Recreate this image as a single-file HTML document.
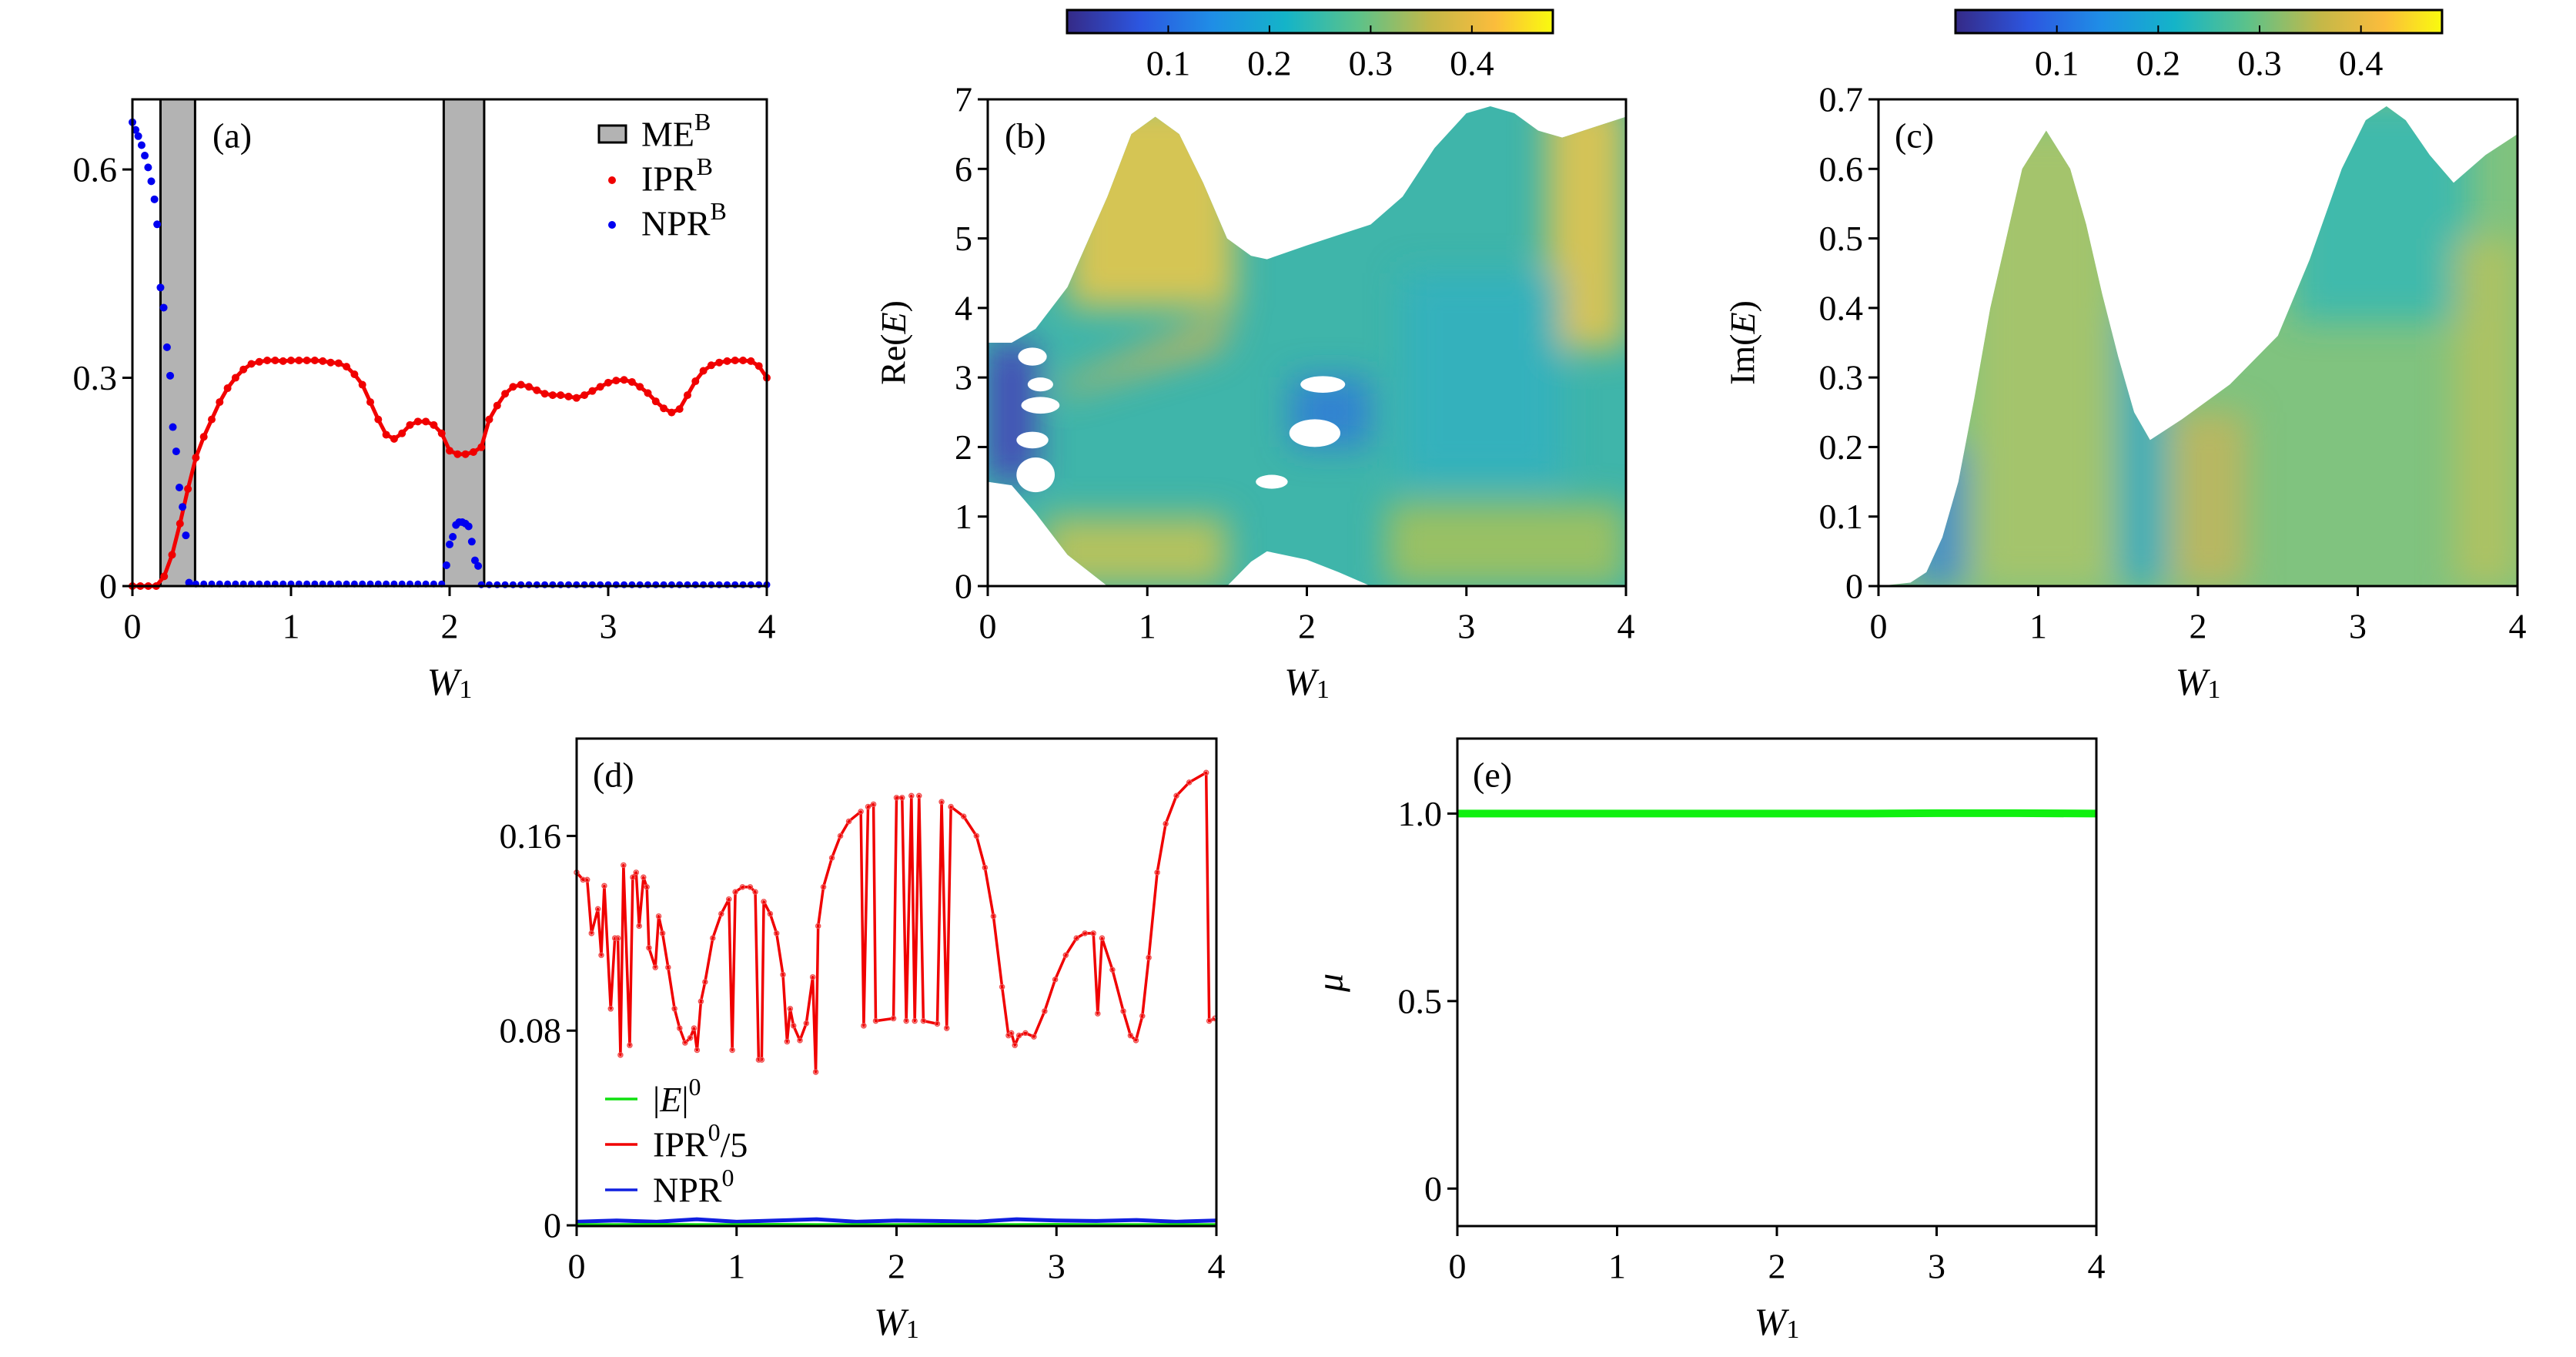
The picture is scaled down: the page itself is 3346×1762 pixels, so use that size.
<!DOCTYPE html>
<html><head><meta charset="utf-8"><style>
html,body{margin:0;padding:0;background:#fff;}
svg{display:block;}
text{font-family:"Liberation Serif",serif;fill:#000;}
</style></head><body>
<svg id="fig" width="3346" height="1762" viewBox="0 0 3346 1762" xmlns="http://www.w3.org/2000/svg">
<defs>
<linearGradient id="parula" x1="0" x2="1" y1="0" y2="0">
<stop offset="0" stop-color="#352a87"/><stop offset="0.15" stop-color="#2c56e0"/><stop offset="0.3" stop-color="#1f8ee6"/>
<stop offset="0.45" stop-color="#14b4c8"/><stop offset="0.6" stop-color="#5cc28a"/><stop offset="0.75" stop-color="#c4b848"/>
<stop offset="0.88" stop-color="#fbbc3c"/><stop offset="1" stop-color="#f9fb0e"/>
</linearGradient>
<filter id="soft" x="-10%" y="-10%" width="120%" height="120%"><feGaussianBlur stdDeviation="22"/></filter>
</defs>
</svg>
<script>
// ---------- data panel (a) ----------
const ipaX=[0,0.05,0.1,0.15,0.2,0.25,0.3,0.35,0.4,0.45,0.5,0.55,0.6,0.65,0.7,0.75,0.8,0.85,0.9,0.95,1.0,1.05,1.1,1.15,1.2,1.25,1.3,1.35,1.4,1.45,1.5,1.55,1.6,1.65,1.7,1.75,1.8,1.85,1.9,1.95,2.0,2.05,2.1,2.15,2.2,2.25,2.3,2.35,2.4,2.45,2.5,2.55,2.6,2.65,2.7,2.75,2.8,2.85,2.9,2.95,3.0,3.05,3.1,3.15,3.2,3.25,3.3,3.35,3.4,3.45,3.5,3.55,3.6,3.65,3.7,3.75,3.8,3.85,3.9,3.95,4.0];
const ipaY=[0,0,0,0,0.014,0.045,0.09,0.14,0.185,0.215,0.24,0.265,0.285,0.3,0.312,0.32,0.323,0.325,0.325,0.324,0.325,0.325,0.325,0.325,0.324,0.322,0.321,0.316,0.305,0.29,0.265,0.24,0.218,0.212,0.22,0.232,0.237,0.237,0.232,0.22,0.195,0.19,0.19,0.193,0.2,0.24,0.26,0.277,0.287,0.29,0.287,0.282,0.277,0.275,0.275,0.273,0.271,0.275,0.281,0.287,0.293,0.296,0.297,0.294,0.287,0.278,0.266,0.256,0.25,0.255,0.275,0.295,0.31,0.318,0.322,0.324,0.325,0.325,0.324,0.317,0.30];
const npaX=[0,0.02,0.037,0.058,0.078,0.099,0.119,0.139,0.156,0.177,0.197,0.218,0.238,0.255,0.276,0.296,0.316,0.337,0.357,1.98,2.0,2.02,2.04,2.06,2.08,2.10,2.12,2.14,2.16,2.18];
const npaY=[0.668,0.657,0.648,0.635,0.62,0.603,0.583,0.557,0.521,0.43,0.401,0.344,0.303,0.229,0.194,0.142,0.114,0.073,0.005,0.03,0.06,0.071,0.088,0.092,0.092,0.09,0.086,0.064,0.037,0.029];
const npaFlatX=[0.40,0.45,0.5,0.55,0.6,0.65,0.7,0.75,0.8,0.85,0.9,0.95,1.0,1.05,1.1,1.15,1.2,1.25,1.3,1.35,1.4,1.45,1.5,1.55,1.6,1.65,1.7,1.75,1.8,1.85,1.9,1.95,2.2,2.25,2.3,2.35,2.4,2.45,2.5,2.55,2.6,2.65,2.7,2.75,2.8,2.85,2.9,2.95,3.0,3.05,3.1,3.15,3.2,3.25,3.3,3.35,3.4,3.45,3.5,3.55,3.6,3.65,3.7,3.75,3.8,3.85,3.9,3.95,4.0];
const npaFlatY=[0.003,0.003,0.003,0.003,0.003,0.003,0.003,0.003,0.003,0.003,0.003,0.003,0.003,0.003,0.003,0.003,0.003,0.003,0.003,0.003,0.003,0.003,0.003,0.003,0.003,0.003,0.003,0.003,0.003,0.003,0.003,0.003,0.002,0.002,0.002,0.002,0.002,0.002,0.002,0.002,0.002,0.002,0.002,0.002,0.002,0.002,0.002,0.002,0.002,0.002,0.002,0.002,0.002,0.002,0.002,0.002,0.002,0.002,0.002,0.002,0.002,0.002,0.002,0.002,0.002,0.002,0.002,0.002,0.002];
const meBands=[[0.177,0.395],[1.963,2.218]];
const aYTicks=[0,0.3,0.6];
const aYLabels=["0","0.3","0.6"];
const xTicks=[0,1,2,3,4];
const xLabels=["0","1","2","3","4"];
// ---------- data panel (b) ----------
const bEnvX=[0,0.15,0.3,0.5,0.75,0.9,1.05,1.2,1.35,1.5,1.65,1.75,2.0,2.2,2.4,2.6,2.8,3.0,3.15,3.3,3.45,3.6,3.8,4.0];
const bTop=[3.5,3.5,3.7,4.3,5.6,6.5,6.75,6.5,5.8,5.0,4.75,4.7,4.9,5.05,5.2,5.6,6.3,6.8,6.9,6.8,6.55,6.45,6.6,6.75];
const bBot=[1.5,1.45,1.05,0.45,0,0,0,0,0,0,0.35,0.5,0.38,0.2,0,0,0,0,0,0,0,0,0,0];
const bYTicks=[0,1,2,3,4,5,6,7];
const bRegionX=[[0.5,1.55,1.55,0.5],[3.5,4.0,4.0,3.5],[0.0,0.3,0.3,0.0],[0.35,1.5,1.5,0.35],[2.5,4.0,4.0,2.5],[1.9,2.4,2.4,1.9],[0.45,1.55,1.45,0.45],[2.6,3.6,3.6,2.6]];
const bRegionY=[[4.0,4.0,7,7],[3.4,3.4,7,7],[1.5,1.5,3.5,3.5],[0,0,1.0,1.0],[0,0,1.2,1.2],[2.0,2.0,3.0,3.0],[2.9,3.95,3.4,2.75],[1.5,1.5,4.5,4.5]];
const bRegionC=["#f0c845","#efc648","#4436b8","#c8c452","#a9c257","#2f7ad8","#d9b54c","#33b0c0"];
const bHoleX=[0.28,0.33,0.33,0.28,0.3,2.1,2.05,1.78];
const bHoleY=[3.3,2.9,2.6,2.1,1.6,2.9,2.2,1.5];
const bHoleRx=[0.09,0.08,0.12,0.1,0.12,0.14,0.16,0.1];
const bHoleRy=[0.13,0.1,0.12,0.12,0.25,0.12,0.2,0.1];
// ---------- data panel (c) ----------
const cEnvX=[0,0.2,0.3,0.4,0.5,0.6,0.7,0.8,0.9,1.05,1.2,1.3,1.4,1.5,1.6,1.7,1.9,2.2,2.5,2.7,2.9,3.05,3.18,3.3,3.45,3.6,3.8,4.0];
const cTop=[0,0.005,0.02,0.07,0.15,0.27,0.4,0.5,0.6,0.655,0.6,0.52,0.42,0.33,0.25,0.21,0.24,0.29,0.36,0.47,0.6,0.67,0.69,0.67,0.62,0.58,0.62,0.65];
const cYTicks=[0,0.1,0.2,0.3,0.4,0.5,0.6,0.7];
const cYLabels=["0","0.1","0.2","0.3","0.4","0.5","0.6","0.7"];
const cRegionX=[[0.6,1.45,1.45,0.6],[1.5,1.8,1.8,1.5],[2.6,3.7,3.7,2.6],[1.85,2.3,2.3,1.85],[3.6,4.0,4.0,3.6],[0.2,0.55,0.55,0.2]];
const cRegionY=[[0,0,0.66,0.66],[0,0,0.4,0.4],[0.38,0.38,0.7,0.7],[0,0,0.25,0.25],[0,0,0.5,0.5],[0,0,0.2,0.2]];
const cRegionC=["#acc468","#2fa7c8","#2fb8b6","#c6b45a","#b8c25c","#3f86d6"];
// ---------- data panel (d) ----------
const dX=[0,0.04,0.066,0.093,0.133,0.154,0.173,0.213,0.239,0.258,0.274,0.293,0.332,0.351,0.372,0.391,0.418,0.439,0.452,0.492,0.513,0.537,0.572,0.612,0.644,0.678,0.71,0.734,0.753,0.777,0.803,0.851,0.904,0.952,0.973,0.992,1.037,1.085,1.117,1.138,1.157,1.17,1.21,1.25,1.29,1.316,1.335,1.356,1.396,1.436,1.476,1.495,1.51,1.543,1.596,1.649,1.702,1.777,1.795,1.822,1.856,1.870,1.981,2.0,2.035,2.061,2.093,2.114,2.141,2.168,2.255,2.282,2.314,2.34,2.42,2.50,2.553,2.606,2.66,2.70,2.718,2.74,2.766,2.806,2.859,2.926,2.992,3.058,3.125,3.178,3.231,3.258,3.285,3.35,3.418,3.463,3.497,3.537,3.577,3.63,3.683,3.75,3.83,3.936,3.955,3.99];
const dIPR=[0.145,0.142,0.142,0.12,0.13,0.111,0.1395,0.089,0.118,0.118,0.070,0.148,0.074,0.143,0.145,0.123,0.143,0.139,0.114,0.106,0.127,0.120,0.106,0.089,0.081,0.075,0.077,0.081,0.072,0.092,0.100,0.118,0.128,0.134,0.072,0.137,0.139,0.139,0.137,0.068,0.068,0.133,0.128,0.120,0.103,0.0755,0.089,0.082,0.076,0.083,0.102,0.063,0.123,0.139,0.151,0.160,0.166,0.170,0.082,0.172,0.173,0.084,0.085,0.1757,0.1757,0.084,0.1765,0.084,0.1765,0.084,0.0828,0.174,0.081,0.172,0.168,0.160,0.147,0.127,0.098,0.078,0.079,0.074,0.078,0.079,0.0775,0.088,0.101,0.111,0.118,0.120,0.120,0.087,0.118,0.105,0.088,0.078,0.076,0.086,0.110,0.145,0.165,0.1765,0.182,0.186,0.084,0.085];
const dSmallX=[0,0.25,0.5,0.75,1.0,1.25,1.5,1.75,2.0,2.25,2.5,2.75,3.0,3.25,3.5,3.75,4.0];
const dNPR=[0.0015,0.002,0.0015,0.0025,0.0015,0.002,0.0025,0.0015,0.002,0.0018,0.0015,0.0025,0.002,0.0018,0.0022,0.0015,0.002];
const dE=[0.0004,0.0004,0.0005,0.0004,0.0004,0.0005,0.0004,0.0004,0.0004,0.0005,0.0004,0.0004,0.0005,0.0004,0.0004,0.0004,0.0004];
const dYTicks=[0,0.08,0.16];
const dYLabels=["0","0.08","0.16"];
// ---------- data panel (e) ----------
const eX=[0,0.5,1.0,1.5,2.0,2.5,3.0,3.5,4.0];
const eMu=[1.0,1.0,1.0,1.0,1.0,1.0,1.001,1.001,1.0];
const eYTicks=[0,0.5,1.0];
const eYLabels=["0","0.5","1.0"];
// ---------- colorbar ----------
const cbTicks=[0.1,0.2,0.3,0.4];
const cbLabels=["0.1","0.2","0.3","0.4"];

const NS="http://www.w3.org/2000/svg";
const svg=document.getElementById('fig');
function mk(tag,attrs,parent){const e=document.createElementNS(NS,tag);for(const k in attrs)e.setAttribute(k,attrs[k]);(parent||svg).appendChild(e);return e;}
function axes(x0,x1,y0,y1,xmin,xmax,ymin,ymax){return {x0,x1,y0,y1,sx:v=>x0+(v-xmin)/(xmax-xmin)*(x1-x0),sy:v=>y1-(v-ymin)/(ymax-ymin)*(y1-y0)};}
function txt(s,x,y,size,anchor,parent,italic){const t=mk('text',{x:x,y:y,'font-size':size,'text-anchor':anchor||'middle','dominant-baseline':'central'},parent);if(italic)t.setAttribute('font-style','italic');t.textContent=s;return t;}

function frame(A,g,yt,yl,xlab,name){
  const r=mk('rect',{x:A.x0,y:A.y0,width:A.x1-A.x0,height:A.y1-A.y0,fill:'none',stroke:'#000','stroke-width':3},g);
  
  
  xTicks.forEach((v,i)=>{
    const l=mk('line',{x1:A.sx(v),x2:A.sx(v),y1:A.y1,y2:A.y1+13,stroke:'#000','stroke-width':3},g);
    
    
    const t=txt(xLabels[i],A.sx(v),A.y1+52,46,'middle',g);
    
    
  });
  yt.forEach((v,i)=>{
    const l=mk('line',{x1:A.x0-13,x2:A.x0,y1:A.sy(v),y2:A.sy(v),stroke:'#000','stroke-width':3},g);
    
    
    const t=txt(yl[i],A.x0-20,A.sy(v),46,'end',g);
    
    
  });
  const w=mk('text',{x:(A.x0+A.x1)/2,y:A.y1+124,'font-size':50,'text-anchor':'middle','dominant-baseline':'central','font-style':'italic'},g);
  w.innerHTML='W<tspan font-size="34" font-style="normal" dy="10">1</tspan>';
  
  
}
function panelLabel(s,x,y,g){const t=txt(s,x,y,46,'start',g);}

// ===== Panel (a) =====
const ga=mk('g',{});


const A=axes(172,996,129,761,0,4,0,0.701);
meBands.forEach(b=>{
  const r=mk('rect',{x:A.sx(b[0]),y:A.y0,width:A.sx(b[1])-A.sx(b[0]),height:A.y1-A.y0,fill:'#b3b3b3',stroke:'#000','stroke-width':3},ga);
  
  
});
const ipl=mk('polyline',{points:ipaX.map((x,i)=>A.sx(x)+','+A.sy(ipaY[i])).join(' '),fill:'none',stroke:'#f20000','stroke-width':5},ga);


ipaX.forEach((x,i)=>{const c=mk('circle',{cx:A.sx(x),cy:A.sy(ipaY[i]),r:5,fill:'#f00000'},ga);
  
  });
npaFlatX.forEach((x,i)=>{const c=mk('circle',{cx:A.sx(x),cy:A.sy(npaFlatY[i]),r:4.5,fill:'#0000f0'},ga);
  
  });
npaX.forEach((x,i)=>{const c=mk('circle',{cx:A.sx(x),cy:A.sy(npaY[i]),r:5,fill:'#0000f0'},ga);
  
  });
frame(A,ga,aYTicks,aYLabels,true,'panel-a');
panelLabel('(a)',276,176,ga);
// legend a
const lg=mk('g',{},ga);


const lp=mk('rect',{x:778,y:163,width:35,height:22,fill:'#b3b3b3',stroke:'#000','stroke-width':3},lg);


[['ME','B',174,null],['IPR','B',232,'#f00000'],['NPR','B',290,'#0000f0']].forEach(e=>{
  if(e[3]){const c=mk('circle',{cx:795,cy:e[2]+2,r:5,fill:e[3]},lg);
    
    }
  const t=mk('text',{x:833,y:e[2],'font-size':46,'dominant-baseline':'central'},lg);
  t.innerHTML=e[0]+'<tspan font-size="32" dy="-16">'+e[1]+'</tspan>';
  
  
});

// ===== colorbars =====
function colorbar(x0,x1,name){
  const g=mk('g',{});
  
  
  const r=mk('rect',{x:x0,y:13,width:x1-x0,height:30,fill:'url(#parula)',stroke:'#000','stroke-width':3},g);
  
  
  const s=v=>x0+v/0.48*(x1-x0);
  cbTicks.forEach((v,i)=>{
    const l=mk('line',{x1:s(v),x2:s(v),y1:33,y2:43,stroke:'#000','stroke-width':2},g);
    
    
    const t=txt(cbLabels[i],s(v),82,46,'middle',g);
    
    
  });
}
colorbar(1386,2017,'colorbar-b');
colorbar(2540,3172,'colorbar-c');

// ===== Panel (b) =====
const gb=mk('g',{});


const B=axes(1283,2112,129,761,0,4,0,7);
const cpB=mk('clipPath',{id:'clipB'},svg.querySelector('defs'));
const envB=bEnvX.map((x,i)=>B.sx(x)+','+B.sy(bTop[i])).concat(bEnvX.slice().reverse().map((x,i)=>B.sx(x)+','+B.sy(bBot[bBot.length-1-i]))).join(' ');
mk('polygon',{points:envB},cpB);
const gbc=mk('g',{'clip-path':'url(#clipB)'},gb);
const bb=mk('rect',{x:B.x0,y:B.y0,width:B.x1-B.x0,height:B.y1-B.y0,fill:'#3fb5aa'},gbc);


const gbs=mk('g',{filter:'url(#soft)'},gbc);
bRegionX.forEach((xs,k)=>{
  const p=mk('polygon',{points:xs.map((x,i)=>B.sx(x)+','+B.sy(bRegionY[k][i])).join(' '),fill:bRegionC[k],opacity:0.85},gbs);
  
  
});
bHoleX.forEach((x,i)=>{
  const e=mk('ellipse',{cx:B.sx(x),cy:B.sy(bHoleY[i]),rx:bHoleRx[i]/4*(B.x1-B.x0),ry:bHoleRy[i]/7*(B.y1-B.y0),fill:'#fff'},gbc);
  
  
});
frame(B,gb,bYTicks,bYTicks.map(String),true,'panel-b');
const rl=mk('text',{x:0,y:0,'font-size':46,'text-anchor':'middle','dominant-baseline':'central',transform:'translate(1160,445) rotate(-90)'},gb);
rl.innerHTML='Re(<tspan font-style="italic">E</tspan>)';


panelLabel('(b)',1305,176,gb);

// ===== Panel (c) =====
const gc=mk('g',{});


const C=axes(2440,3270,129,761,0,4,0,0.7);
const cpC=mk('clipPath',{id:'clipC'},svg.querySelector('defs'));
const envC=cEnvX.map((x,i)=>C.sx(x)+','+C.sy(cTop[i])).concat([C.sx(4)+','+C.sy(0),C.sx(0)+','+C.sy(0)]).join(' ');
mk('polygon',{points:envC},cpC);
const gcc=mk('g',{'clip-path':'url(#clipC)'},gc);
const cb=mk('rect',{x:C.x0,y:C.y0,width:C.x1-C.x0,height:C.y1-C.y0,fill:'#80c37f'},gcc);


const gcs=mk('g',{filter:'url(#soft)'},gcc);
cRegionX.forEach((xs,k)=>{
  const p=mk('polygon',{points:xs.map((x,i)=>C.sx(x)+','+C.sy(cRegionY[k][i])).join(' '),fill:cRegionC[k],opacity:0.8},gcs);
  
  
});
frame(C,gc,cYTicks,cYLabels,true,'panel-c');
const il=mk('text',{x:0,y:0,'font-size':46,'text-anchor':'middle','dominant-baseline':'central',transform:'translate(2263,445) rotate(-90)'},gc);
il.innerHTML='Im(<tspan font-style="italic">E</tspan>)';


panelLabel('(c)',2461,176,gc);

// ===== Panel (d) =====
const gd=mk('g',{});


const D=axes(749,1580,959,1592,0,4,-0.0003,0.2);
const dl=mk('polyline',{points:dX.map((x,i)=>D.sx(x)+','+D.sy(dIPR[i])).join(' '),fill:'none',stroke:'#f00000','stroke-width':3.5,'stroke-linejoin':'round'},gd);


dX.forEach((x,i)=>{const c=mk('circle',{cx:D.sx(x),cy:D.sy(dIPR[i]),r:3,fill:'none',stroke:'#f05050','stroke-width':1.5},gd);
  
  });
const dn=mk('polyline',{points:dSmallX.map((x,i)=>D.sx(x)+','+D.sy(dNPR[i])).join(' '),fill:'none',stroke:'#1020e0','stroke-width':5},gd);


const de=mk('polyline',{points:dSmallX.map((x,i)=>D.sx(x)+','+D.sy(dE[i])).join(' '),fill:'none',stroke:'#10e010','stroke-width':3},gd);


frame(D,gd,dYTicks,dYLabels,true,'panel-d');
panelLabel('(d)',770,1006,gd);
const lgd=mk('g',{},gd);


[['|<tspan font-style="italic">E</tspan>|<tspan font-size="32" dy="-16">0</tspan>',1427,'#10e010'],['IPR<tspan font-size="32" dy="-16">0</tspan><tspan dy="16">/5</tspan>',1486,'#f00000'],['NPR<tspan font-size="32" dy="-16">0</tspan>',1545,'#1020e0']].forEach(e=>{
  const l=mk('line',{x1:786,x2:828,y1:e[1],y2:e[1],stroke:e[2],'stroke-width':3.5},lgd);
  
  
  const t=mk('text',{x:848,y:e[1],'font-size':46,'dominant-baseline':'central'},lgd);
  t.innerHTML=e[0];
  
  
});

// ===== Panel (e) =====
const ge=mk('g',{});


const E=axes(1893,2723,959,1592,0,4,-0.1,1.2);
const el=mk('polyline',{points:eX.map((x,i)=>E.sx(x)+','+E.sy(eMu[i])).join(' '),fill:'none',stroke:'#10f010','stroke-width':10},ge);


frame(E,ge,eYTicks,eYLabels,true,'panel-e');
const mu=txt('μ',1728,1276,48,'middle',ge,true);
mu.setAttribute('transform','rotate(-90 1728 1276)');


panelLabel('(e)',1913,1006,ge);
</script>
</body></html>
